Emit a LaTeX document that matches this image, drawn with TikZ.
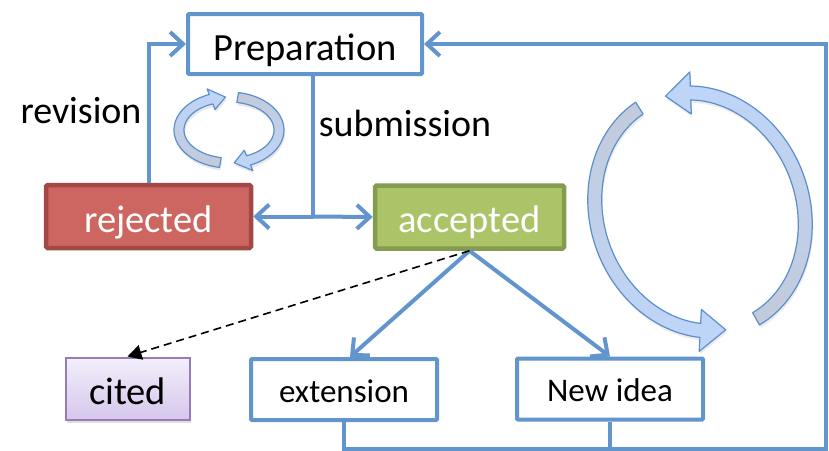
\documentclass[tikz,border=0pt]{standalone}
\usepackage{fontspec}
\setmainfont{Carlito}
\usetikzlibrary{arrows.meta,calc,shadows}

\definecolor{linkblue}{RGB}{98,148,206}
\definecolor{ribbonedge}{RGB}{92,142,204}
\definecolor{ribbonlight}{RGB}{190,214,250}
\definecolor{ribbongrey}{RGB}{194,202,218}
\definecolor{rejfill}{RGB}{205,102,96}
\definecolor{rejedge}{RGB}{163,72,68}
\definecolor{accfill}{RGB}{171,196,104}
\definecolor{accedge}{RGB}{132,156,78}
\definecolor{citetop}{RGB}{243,239,251}
\definecolor{citebottom}{RGB}{214,199,236}
\definecolor{citeedge}{RGB}{152,124,186}

\tikzset{
  bigtext/.style={font=\fontsize{38.5}{42}\selectfont, text height=31pt, text depth=0pt},
  smalltext/.style={font=\fontsize{33}{36}\selectfont, text height=25pt, text depth=0pt},
  flowbox/.style={draw=linkblue, line width=4pt, fill=white, inner sep=0pt,
    rounded corners=1pt},
  statebox/.style={line width=4.5pt, inner sep=0pt, text=white, rounded corners=1.5pt,
    bigtext},
  flow/.style={draw=linkblue, line width=4pt},
  flowtip/.style={-{Straight Barb[length=13pt,width=24pt]}},
  ribbon/.style={draw=ribbonedge, line width=1.2pt, line join=round},
  label/.style={inner sep=0pt, font=\fontsize{38}{40}\selectfont}
}

\begin{document}
\begin{tikzpicture}[x=1pt,y=-1pt]
\useasboundingbox (0,0) rectangle (829,450);

% ---- nodes ----
\node[flowbox, minimum width=234pt, minimum height=60pt, bigtext,
      text height=32pt] (prep) at (305,44) {Preparation};
\node[statebox, draw=rejedge, fill=rejfill, minimum width=205pt, minimum height=63pt]
      (rej) at (148.5,216.5) {rejected};
\node[statebox, draw=accedge, fill=accfill, minimum width=189pt, minimum height=63pt]
      (acc) at (469.5,217) {accepted};
\node[draw=citeedge, line width=2pt, top color=citetop, bottom color=citebottom,
      minimum width=124pt, minimum height=62pt, inner sep=0pt, bigtext,
      drop shadow={opacity=0.25, shadow xshift=1.5pt, shadow yshift=-3.5pt}]
      (cite) at (127.5,388.5) {cited};
\node[flowbox, minimum width=186pt, minimum height=61pt, smalltext]
      (ext) at (344,389.5) {extension};
\node[flowbox, minimum width=186pt, minimum height=61pt, smalltext]
      (new) at (610,389) {New idea};

\node[label, anchor=base] (rev) at (81,123) {revision};
\node[label, anchor=base] (sub) at (405,136) {submission};

% ---- connectors ----
\coordinate (fork) at (313,216.5);
\coordinate (loop) at (826,448.5);

\draw[flow, flowtip] (rej.north) |- (prep.west);
\draw[flow] (prep.south -| fork) -- (fork);
\draw[flow, flowtip] (fork) -- (rej.east);
\draw[flow, flowtip] (fork) -- (acc.west);

\draw[flow, flowtip] (ext.south) -- (ext.south |- loop) -- (loop) |- (prep.east);
\draw[flow] (new.south) -- (new.south |- loop);

\draw[flow, flowtip] (acc.south) -- ($(ext.north)+(6,0)$);
\draw[flow, flowtip] (acc.south) -- (new.north);
\draw[black, line width=1.6pt, dash pattern=on 8pt off 5pt,
      -{Triangle[length=14pt,width=15pt]}] (acc.south) -- (cite.north);

% ---- small cycle of two ribbon arrows ----
\begin{scope}[shift={(229,130)}]
  \path[ribbon, top color=ribbonlight, bottom color=ribbongrey,
        drop shadow={opacity=0.18, shadow xshift=1pt, shadow yshift=-3pt}]
    plot[domain=100:249, smooth, samples=40] ({55*cos(\x)},{38*sin(\x)})
    -- ({61*cos(249)},{44*sin(249)})
    -- ({50*cos(266)},{33*sin(266)})
    -- ({39*cos(249)},{22*sin(249)})
    -- plot[domain=249:100, smooth, samples=40] ({45*cos(\x)},{28*sin(\x)})
    -- cycle;
  \path[ribbon, top color=ribbongrey, bottom color=ribbonlight,
        drop shadow={opacity=0.18, shadow xshift=1pt, shadow yshift=-3pt}]
    plot[domain=-80:67, smooth, samples=40] ({55*cos(\x)},{38*sin(\x)})
    -- ({61*cos(67)},{44*sin(67)})
    -- ({50*cos(84)},{33*sin(84)})
    -- ({39*cos(67)},{22*sin(67)})
    -- plot[domain=67:-80, smooth, samples=40] ({45*cos(\x)},{28*sin(\x)})
    -- cycle;
\end{scope}

% ---- large cycle of two ribbon arrows ----
\begin{scope}[shift={(700,212)}, rotate=20]
  \path[ribbon, top color=ribbongrey, bottom color=ribbonlight,
        drop shadow={opacity=0.15, shadow xshift=1pt, shadow yshift=-3pt}]
    plot[domain=258:113, smooth, samples=60] ({110*cos(\x)},{128*sin(\x)})
    -- ({124*cos(113)},{142*sin(113)})
    -- ({103*cos(99)},{121*sin(99)})
    -- ({82*cos(113)},{100*sin(113)})
    -- plot[domain=113:258, smooth, samples=60] ({96*cos(\x)},{114*sin(\x)})
    -- cycle;
  \path[ribbon, top color=ribbonlight, bottom color=ribbongrey,
        drop shadow={opacity=0.15, shadow xshift=1pt, shadow yshift=-3pt}]
    plot[domain=81:-72, smooth, samples=60] ({110*cos(\x)},{128*sin(\x)})
    -- ({124*cos(-72)},{142*sin(-72)})
    -- ({103*cos(-86)},{121*sin(-86)})
    -- ({82*cos(-72)},{100*sin(-72)})
    -- plot[domain=-72:81, smooth, samples=60] ({96*cos(\x)},{114*sin(\x)})
    -- cycle;
\end{scope}
\end{tikzpicture}
\end{document}
